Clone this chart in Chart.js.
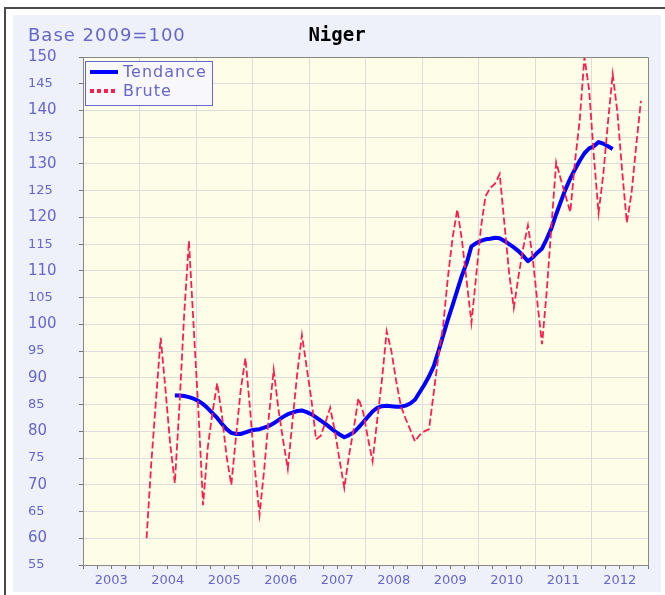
<!DOCTYPE html>
<html>
<head>
<meta charset="utf-8">
<title>Niger</title>
<script src="https://cdn.jsdelivr.net/npm/chart.js@4"></script>
<style>
  html, body { margin:0; padding:0; background:#fff; }
  canvas { display:block; }
</style>
</head>
<body>
<canvas id="chart" width="665" height="595"></canvas>
<script>
const yearLabels = ['2003','2004','2005','2006','2007','2008','2009','2010','2011','2012'];

// monthly index, base 2009=100 (raw series: Feb 2004 -> Nov 2012)
const bruteStart = { year: 2004, month: 2 };
const brute = [
  60, 74, 85.8, 97.5, 88, 77.8, 70.3, 85, 102, 115.6, 99.6,
  84, 66.2, 77, 83.5, 89, 83, 75.3, 70, 79, 87.8, 93.7, 84,
  73, 64.4, 73, 83, 91.5, 84.2, 78.3, 73, 82, 90.8, 98, 92,
  86, 78.5, 79.2, 81.7, 84.4, 80, 74.6, 69.4, 75.5, 80.5, 86.2, 83.6,
  78.8, 74.4, 82.2, 89.7, 98.7, 95, 89.5, 84.8, 82.4, 80.3, 78.1, 79.3,
  80, 80.4, 87.3, 94.2, 99.8, 108.8, 116.2, 121.5, 115.6, 108, 100.3, 109,
  118, 124, 125.5, 126.3, 128.1, 118.9, 109.6, 103.1, 109, 114.3, 118.5, 112.6,
  104.1, 96.3, 106.3, 118.5, 130.3, 127.1, 124, 121, 130.5, 138.2, 150, 143.8,
  131.5, 120.8, 128, 137.8, 146.8, 139.7, 128.8, 119, 124.5, 133.5, 141.8
];

// trend (Aug 2004 -> May 2012)
const tendanceStart = { year: 2004, month: 8 };
const tendance = [
  86.7, 86.7, 86.6, 86.4, 86.1,
  85.7, 85.1, 84.3, 83.4, 82.5, 81.4, 80.4, 79.7, 79.5, 79.5, 79.8, 80.1,
  80.3, 80.4, 80.7, 81.0, 81.5, 82.1, 82.7, 83.2, 83.5, 83.8, 83.9, 83.6,
  83.2, 82.6, 82.0, 81.4, 80.7, 80.0, 79.4, 78.9, 79.3, 79.8, 80.7, 81.7,
  82.7, 83.7, 84.4, 84.7, 84.8, 84.7, 84.6, 84.6, 84.8, 85.2, 85.9, 87.3,
  88.7, 90.3, 92.2, 95.0, 98.0, 100.9, 103.6, 106.4, 109.2, 111.5, 114.6, 115.2,
  115.6, 115.9, 116.0, 116.2, 116.1, 115.6, 115.0, 114.4, 113.7, 112.8, 111.8, 112.5,
  113.4, 114.2, 116.0, 118.0, 120.6, 123.0, 125.3, 127.3, 129.0, 130.6, 132.0, 132.9,
  133.3, 134.1, 133.8, 133.3, 132.8
];

const TXT = '#6666cc';

// each monthly value sits in the middle of its month on the year axis
function toPoints(start, values){
  return values.map((v, i) => ({ x: start.year + (start.month - 1 + i + 0.5) / 12, y: v }));
}

// white page, dark frame, pale panel and cream plot area
const frame = {
  id: 'frame',
  beforeDraw(chart){
    const { ctx, chartArea: a } = chart;
    ctx.save();
    ctx.fillStyle = '#fff';
    ctx.fillRect(0, 0, chart.width, chart.height);
    ctx.fillStyle = '#eef1fa';
    ctx.fillRect(13, 15, 648, 577);
    ctx.strokeStyle = '#4a4a4a';
    ctx.lineWidth = 2;
    ctx.beginPath();
    ctx.moveTo(5, chart.height); ctx.lineTo(5, 8); ctx.lineTo(chart.width, 8);
    ctx.stroke();
    ctx.fillStyle = '#fdfde8';
    ctx.fillRect(a.left, a.top, a.right - a.left, a.bottom - a.top);
    ctx.restore();
  },
  afterDatasetsDraw(chart){
    const { ctx, chartArea: a } = chart;
    ctx.save();
    ctx.strokeStyle = '#888';
    ctx.lineWidth = 1;
    ctx.beginPath();
    ctx.moveTo(a.left, a.top + 0.5); ctx.lineTo(a.right + 0.5, a.top + 0.5); ctx.lineTo(a.right + 0.5, a.bottom);
    ctx.stroke();
    ctx.restore();
  }
};

const titles = {
  id: 'titles',
  afterDraw(chart){
    const { ctx } = chart;
    ctx.save();
    ctx.textBaseline = 'alphabetic';
    ctx.fillStyle = TXT;
    ctx.font = '18px "DejaVu Sans"';
    ctx.letterSpacing = '1px';
    ctx.textAlign = 'left';
    ctx.fillText('Base 2009=100', 28, 41);
    ctx.letterSpacing = '0px';
    ctx.fillStyle = '#000';
    ctx.font = 'bold 19px "DejaVu Sans Mono"';
    ctx.textAlign = 'center';
    ctx.fillText('Niger', 337, 41);
    ctx.restore();
  }
};

// boxed legend in the top-left corner of the plot
const legendBox = {
  id: 'legendBox',
  afterDraw(chart){
    const { ctx, chartArea: a } = chart;
    const x = a.left + 2, y = a.top + 4, w = 128, h = 45;
    ctx.save();
    ctx.fillStyle = '#f8f8fc';
    ctx.fillRect(x, y, w, h);
    ctx.strokeStyle = TXT;
    ctx.lineWidth = 1;
    ctx.strokeRect(x + 0.5, y + 0.5, w - 1, h - 1);
    chart.data.datasets.forEach((ds, i) => {
      const ly = y + 11 + i * 19;
      ctx.strokeStyle = ds.borderColor;
      ctx.lineWidth = 4;
      ctx.setLineDash(ds.borderDash ? [4, 3] : []);
      ctx.beginPath();
      ctx.moveTo(x + 5, ly); ctx.lineTo(x + 33, ly);
      ctx.stroke();
      ctx.setLineDash([]);
      ctx.fillStyle = TXT;
      ctx.font = '16px "DejaVu Sans"';
      ctx.letterSpacing = '1px';
      ctx.textBaseline = 'middle';
      ctx.textAlign = 'left';
      ctx.fillText(ds.label, x + 38, ly + 1);
    });
    ctx.restore();
  }
};

new Chart(document.getElementById('chart'), {
  type: 'line',
  data: {
    datasets: [
      { label: 'Tendance', data: toPoints(tendanceStart, tendance),
        borderColor: '#0000ff', borderWidth: 4, borderJoinStyle: 'round', order: 1 },
      { label: 'Brute', data: toPoints(bruteStart, brute),
        borderColor: '#ff1f4f', borderWidth: 1.8, borderDash: [7, 3], order: 0 }
    ]
  },
  options: {
    responsive: false,
    animation: false,
    devicePixelRatio: 1,
    layout: { padding: { left: 28, top: 57, right: 17, bottom: 0 } },
    elements: { point: { radius: 0 }, line: { tension: 0, borderCapStyle: 'butt' } },
    plugins: { legend: { display: false }, tooltip: { enabled: false } },
    scales: {
      x: {
        type: 'linear', min: 2003, max: 2013,
        afterBuildTicks: s => {
          const t = [];
          for (let k = 0; k <= 40; k++) t.push({ value: 2003 + k * 0.25 });
          s.ticks = t;
        },
        afterFit: s => { s.height = 30; },
        border: { color: '#888' },
        grid: {
          color: c => (c.tick && c.tick.value % 1 === 0) ? '#dcdcdc' : 'rgba(0,0,0,0)',
          tickColor: '#777', tickLength: 4
        },
        ticks: {
          autoSkip: false, maxRotation: 0, padding: 4, color: TXT,
          font: { family: 'DejaVu Sans', size: 13 },
          callback: v => (v % 1 === 0.5) ? yearLabels[Math.floor(v) - 2003] : ''
        }
      },
      y: {
        min: 55, max: 150,
        afterFit: s => { s.width = 55; },
        border: { color: '#888' },
        grid: { color: '#dcdcdc', tickColor: '#777', tickLength: 4 },
        ticks: {
          stepSize: 5, crossAlign: 'far', color: TXT,
          font: c => ({ family: 'DejaVu Sans', size: (c.tick && c.tick.value % 10 === 0) ? 15 : 13 })
        }
      }
    }
  },
  plugins: [frame, titles, legendBox]
});
</script>
</body>
</html>
